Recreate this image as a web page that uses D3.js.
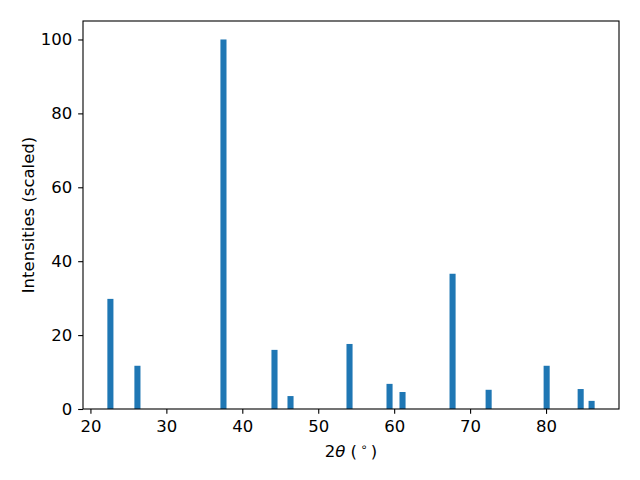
<!DOCTYPE html>
<html>
<head>
<meta charset="utf-8">
<script src="https://cdn.jsdelivr.net/npm/d3@7"></script>
<style>
  body { margin: 0; background: #fff; }
  svg text { font-family: "DejaVu Sans", sans-serif; }
</style>
</head>
<body>
<div id="chart"></div>
<script>
// peak positions (2 theta, degrees) and scaled intensities
var twoTheta = [22.63, 26.19, 37.52, 44.24, 46.35, 54.12, 59.39, 61.1, 67.69, 72.44, 80.08, 84.56, 86.0];
var intensity = [29.8, 11.7, 100, 16.0, 3.5, 17.6, 6.8, 4.6, 36.6, 5.2, 11.7, 5.4, 2.2];
var xTicks = [20, 30, 40, 50, 60, 70, 80];
var yTicks = [0, 20, 40, 60, 80, 100];
var barWidth = 0.8;

(function xrdChart(){
	var W = 640, H = 480;
	var margin = {top: 21, right: 21, bottom: 71, left: 83},
		width = W - margin.left - margin.right,
		height = H - margin.top - margin.bottom;
	var fs = "16.5px";

	var svg = d3.select("#chart")
		.append("svg")
			.attr("width", W)
			.attr("height", H)
		.append("g")
			.attr("transform", "translate(" + margin.left + "," + margin.top + ")");

	// matplotlib style limits: 5% margin around the bars
	var lo = d3.min(twoTheta) - barWidth / 2,
		hi = d3.max(twoTheta) + barWidth / 2,
		pad = (hi - lo) * 0.05;

	var xScale = d3.scaleLinear()
		.domain([lo - pad, hi + pad])
		.range([0, width]);

	var yScale = d3.scaleLinear()
		.domain([0, d3.max(intensity) * 1.05])
		.range([height, 0]);

	// bars
	svg.append("g")
		.selectAll("rect")
		.data(twoTheta)
		.enter()
		.append("rect")
			.attr("x", function(d) { return xScale(d - barWidth / 2); })
			.attr("width", function(d) { return xScale(d + barWidth / 2) - xScale(d - barWidth / 2); })
			.attr("y", function(d, i) { return yScale(intensity[i]); })
			.attr("height", function(d, i) { return yScale(0) - yScale(intensity[i]); })
			.style("fill", "#1f77b4");

	// axes
	var xAxis = svg.append("g")
		.attr("transform", "translate(0," + height + ")")
		.call(d3.axisBottom(xScale).tickValues(xTicks).tickSize(4.86).tickPadding(6));
	var yAxis = svg.append("g")
		.call(d3.axisLeft(yScale).tickValues(yTicks).tickSize(4.86).tickPadding(6));

	[xAxis, yAxis].forEach(function(a) {
		a.attr("font-size", fs).attr("font-family", "DejaVu Sans, sans-serif");
		a.select(".domain").remove();
		a.selectAll("line").attr("stroke", "#000").attr("stroke-width", 1.1);
		a.selectAll("text").attr("fill", "#000");
	});

	// frame
	svg.append("rect")
		.attr("width", width)
		.attr("height", height)
		.attr("fill", "none")
		.attr("stroke", "#000")
		.attr("stroke-width", 1.1);

	// labels
	var xLabel = svg.append("text")
		.attr("x", width / 2)
		.attr("y", height + 48)
		.attr("font-size", fs)
		.attr("text-anchor", "middle");
	xLabel.append("tspan").text("2");
	xLabel.append("tspan").attr("font-style", "italic").text("θ");
	xLabel.append("tspan").text(" (\u2009");
	xLabel.append("tspan").attr("font-size", "11.5px").attr("dy", "-6").text("∘");
	xLabel.append("tspan").attr("dy", "6").text("\u2009)");

	svg.append("text")
		.attr("transform", "translate(" + (34 - margin.left) + "," + (height / 2) + ") rotate(-90)")
		.attr("font-size", fs)
		.attr("text-anchor", "middle")
		.text("Intensities (scaled)");
}());
</script>
</body>
</html>
